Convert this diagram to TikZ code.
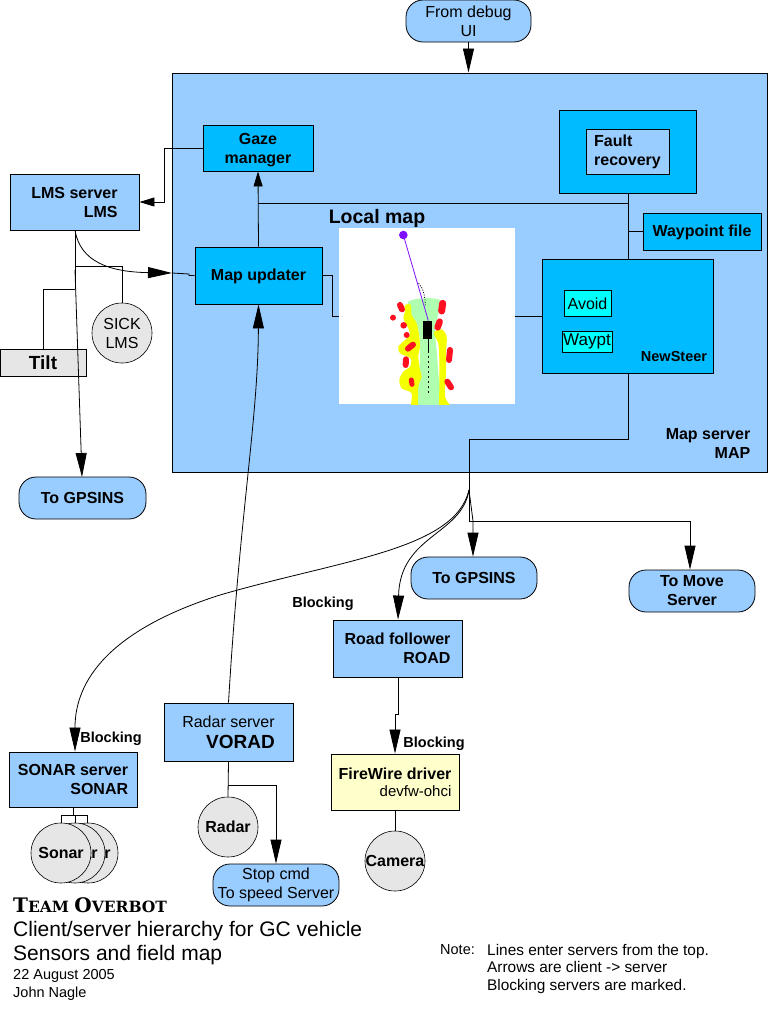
\documentclass[tikz,border=0pt]{standalone}
\usepackage{fontspec}
\setmainfont{Liberation Sans}
\newfontfamily\teamfont{DejaVu Serif}
\usetikzlibrary{arrows.meta,calc}
\tikzset{
  reg/.style={font=\fontsize{16}{19}\selectfont},
  bld/.style={font=\fontsize{16}{19}\selectfont\bfseries},
  box/.style={draw=black,line width=0.9pt,fill=#1,inner sep=0pt,align=center},
  box/.default={lb},
  pill/.style={draw=black,line width=0.8pt,fill=lb,rounded corners=17pt,inner sep=0pt,align=center},
  sens/.style={circle,draw=black,line width=0.6pt,fill=gy,minimum size=60pt,inner sep=0pt,align=center},
  wire/.style={draw=black,line width=0.8pt},
  big/.style={-{Triangle[length=24pt,width=11pt]}},
  small/.style={-{Triangle[length=15pt,width=9pt]}},
  lbl/.style={inner sep=0pt,align=left},
  blk/.style={inner sep=0pt,font=\fontsize{14.5}{17}\selectfont\bfseries},
}
\definecolor{lb}{HTML}{99CCFF}
\definecolor{db}{HTML}{00BBFF}
\definecolor{cy}{HTML}{00FFFF}
\definecolor{gy}{HTML}{E6E6E6}
\definecolor{yl}{HTML}{FFFFCC}
\definecolor{gr}{HTML}{B0FFB0}
\definecolor{ye}{HTML}{F4FF00}
\definecolor{rd}{HTML}{FF1020}
\definecolor{vi}{HTML}{7F10FF}
\begin{document}
\begin{tikzpicture}[x=1pt,y=-1pt]
\useasboundingbox (0,0) rectangle (769,1009);
\fill[white] (0,0) rectangle (769,1009);
% main box
\node[box=lb,minimum width=595pt,minimum height=399pt] (map) at (469.5,272.5) {};
\node[pill,minimum width=125pt,minimum height=42pt,reg] (debug) at (468.5,21) {From debug\\UI};
\node[box=db,minimum width=110pt,minimum height=46pt,bld] (gaze) at (258,148) {\rule{0pt}{16pt}Gaze\\manager};
\node[box=db,minimum width=137pt,minimum height=83pt] (faultbox) at (627.5,151.5) {};
\node[box=lb,minimum width=83pt,minimum height=45pt,bld,align=left] (fault) at (627.5,151.5) {Fault\\recovery};
\node[box=db,minimum width=118pt,minimum height=37pt,bld] (wayp) at (702,231.5) {\rule{0pt}{14pt}Waypoint file};
\node[box=db,minimum width=171pt,minimum height=114pt] (steer) at (627.5,316) {};
\node[box=cy,minimum width=47pt,minimum height=26pt,reg] (avoid) at (587.5,303.5) {Avoid};
\node[box=cy,minimum width=50pt,minimum height=21pt,font=\fontsize{17}{19}\selectfont] (waypt) at (587,341.5) {Waypt};
\node[lbl,font=\fontsize{14.5}{16}\selectfont\bfseries] (newsteer) at (674,357) {NewSteer};
\node[box=db,minimum width=127pt,minimum height=57pt,bld] (upd) at (258.5,275.5) {\rule{0pt}{14pt}Map updater};
\node[lbl,font=\fontsize{19.5}{22}\selectfont\bfseries] (localmap) at (377,218.5) {Local map};
\node[inner sep=0pt,minimum width=176pt,minimum height=176pt,fill=white] (img) at (427,316) {};
% map picture
\begin{scope}
\clip (img.south west) rectangle (img.north east);
\begin{scope}[shift={(320,200)},x=0.3333pt,y=-0.3333pt]
\fill[gr] plot[smooth cycle,tension=0.5] coordinates {(265,305) (310,295) (360,300) (355,340) (345,390) (350,450) (355,520) (362,620) (292,620) (295,540) (300,480) (300,420) (290,370) (270,340)};
\fill[ye] plot[smooth cycle,tension=0.5] coordinates {(255,315) (272,315) (275,345) (290,370) (298,410) (300,440) (295,470) (300,510) (305,530) (295,560) (292,625) (273,625) (275,580) (245,565) (238,540) (250,515) (270,500) (272,475) (240,460) (235,440) (255,420) (270,405) (265,385) (250,355) (255,335)};
\fill[ye] plot[smooth cycle,tension=0.5] coordinates {(343,395) (365,388) (380,410) (378,460) (378,520) (375,590) (395,625) (360,625) (358,560) (358,480) (355,430) (345,410)};
\draw[rd,line cap=round,line width=6pt] (240,315)--(246,328);
\draw[rd,line cap=round,line width=7pt] (368,310)--(365,333);
\draw[rd,line cap=round,line width=6.5pt] (359,365)--(353,382);
\draw[rd,line cap=round,line width=6pt] (390,450)--(387,480);
\draw[rd,line cap=round,line width=6pt] (382,545)--(393,562);
\draw[rd,line cap=round,line width=6pt] (258,478)--(257,495);
\draw[rd,line cap=round,line width=5pt] (274,540)--(276,553);
\draw[rd,line cap=round,line width=6pt] (264,446)--(279,434);
\fill[rd] (219,353) circle (3pt) (251,376) circle (3.3pt) (260,405) circle (3pt);
\draw[vi,line width=0.8pt] (250,105)--(325,362);
\fill[vi] (250,105) circle (4.3pt);
\fill[black] (309,363) rectangle (336,417);
\draw[black,line width=0.9pt] (325,417)--(325,452);
\draw[black,line width=0.8pt,dash pattern=on 2pt off 3pt] (325,452)--(325,578);
\draw[black,line width=0.8pt,dash pattern=on 1pt off 1.5pt] (296,250)..controls (310,265) and (316,290)..(316,320);
\end{scope}
\end{scope}
\node[lbl,align=right,bld] (maplbl) at (708,443) {Map server\\MAP};
% connectors inside map
\coordinate (hl) at (258,203);
\coordinate (hr) at (628,203);
\draw[wire,small] (upd.north) -- (gaze.south);
\draw[wire] (hl) -- (hr);
\draw[wire] (faultbox.south -| hr) -- (steer.north -| hr);
\draw[wire] (wayp.west) -- (wayp.west -| hr);
\draw[wire] (upd.east) -- ++(10,0) |- (img.west);
\draw[wire] (img.east) -- (steer.west);
% outside boxes
\node[box=lb,minimum width=129pt,minimum height=56pt,bld,align=right] (lms) at (74.5,202) {LMS server\\LMS};
\node[box=gy,minimum width=86pt,minimum height=27pt,font=\fontsize{19}{21}\selectfont\bfseries] (tilt) at (43,362.5) {Tilt};
\node[sens,reg] (sick) at (122,333) {SICK\\LMS};
\node[pill,minimum width=127pt,minimum height=42pt,bld] (gps1) at (82.5,498) {To GPSINS};
\node[pill,minimum width=126pt,minimum height=42pt,bld] (gps2) at (474,578) {To GPSINS};
\node[pill,minimum width=126pt,minimum height=42pt,bld] (move) at (692,591) {To Move\\Server};
\node[box=lb,minimum width=129pt,minimum height=57pt,bld,align=right] (road) at (397.5,648.5) {Road follower\\ROAD};
\node[box=yl,minimum width=128pt,minimum height=56pt,align=right] (fw) at (395,782) {\fontsize{16}{19}\selectfont\bfseries FireWire driver\\[5pt]\fontsize{15}{19}\selectfont devfw-ohci};
\node[sens,bld] (cam) at (395,861) {Camera};
\node[box=lb,minimum width=129pt,minimum height=58pt,align=right] (radsrv) at (228.5,732) {\fontsize{16}{19}\selectfont Radar server\\[7pt]\fontsize{19}{21}\selectfont\bfseries VORAD};
\node[sens,bld] (radar) at (228,827) {Radar};
\node[pill,minimum width=126pt,minimum height=42pt,reg] (stop) at (276,885) {Stop cmd\\To speed Server};
\node[box=lb,minimum width=128pt,minimum height=55pt,bld,align=right] (sonsrv) at (73,779.5) {SONAR server\\SONAR};
\node[sens,bld] (son3) at (88,853) {Sonar};
\node[sens,bld] (son2) at (75,853) {Sonar};
\node[sens,bld] (son1) at (61,853) {Sonar};
% junctions
\coordinate (lj) at (75,230);
\coordinate (lt) at (172,273);
\coordinate (dj) at (469,490);
\coordinate (sonj) at (73,815);
\coordinate (sonmid) at (220,595);
% connectors
\draw[wire,big] (debug.south) -- (map.north -| debug.south);
\draw[wire,small] (gaze.west) -- ++(-38,0) |- (lms.east);
\draw[wire] (lj) -- (75,289);
\draw[wire] (75,266) -| (sick.north);
\draw[wire] (75,289) -| (tilt.north);
\draw[wire,big] (75,270) -- (82,477);
\draw[wire,big] (lj) .. controls (80,262) and (110,272) .. (lt);
\draw[wire] (lt) -- (189,274) -- (189,275.5) -- (upd.west);
\draw[wire,big] (radsrv.north) .. controls (240,510) and (258,420) .. (upd.south);
\draw[wire] (steer.south -| hr) -- (628,439) -| (dj);
\draw[wire,big] (dj) -- (473,521) -- (gps2.north -| 473,0);
\draw[wire,big] (dj) -- (469,521.5) -| (move.north -| 690,0);
\draw[wire,big] (dj) .. controls (462,535) and (400,535) .. (road.north -| 398,0);
\draw[wire,big] (dj) .. controls (455,550) and (340,560) .. (sonmid) .. controls (110,630) and (75,680) .. (sonsrv.north -| 75,0);
\draw[wire,big] (road.south -| 398,0) -- (398,714) -- (395,714) -- (fw.north);
\draw[wire] (fw.south) -- (cam.north);
\draw[wire] (radsrv.south) -- (radar.north);
\draw[wire,big] (228,785) -| (stop.north);
\draw[wire] (sonsrv.south) -- (sonj);
\draw[wire] (61,823) -- (61,815) -- (87,815) -- (87,823);
\draw[wire] (75,815) -- (75,823);
% labels
\node[blk] (b1) at (111,739) {Blocking};
\node[blk] (b2) at (323,604) {Blocking};
\node[blk] (b3) at (434,744) {Blocking};
\node[anchor=west,inner sep=0pt,font=\teamfont\bfseries] (team) at (13,905) {\fontsize{20}{20}\selectfont T\fontsize{15.5}{15}\selectfont EAM \fontsize{20}{20}\selectfont O\fontsize{15.5}{15}\selectfont VERBOT};
\node[anchor=west,inner sep=0pt,font=\fontsize{21}{24}\selectfont] (t1) at (13,931) {Client/server hierarchy for GC vehicle};
\node[anchor=west,inner sep=0pt,font=\fontsize{21}{24}\selectfont] (t2) at (13,955) {Sensors and field map};
\node[anchor=west,inner sep=0pt,font=\fontsize{14.5}{17}\selectfont] (t3) at (13,976) {22 August 2005};
\node[anchor=west,inner sep=0pt,font=\fontsize{14.5}{17}\selectfont] (t4) at (13,994) {John Nagle};
\node[anchor=west,inner sep=0pt,font=\fontsize{14.5}{17}\selectfont] (n0) at (440,950) {Note:};
\node[anchor=west,inner sep=0pt,font=\fontsize{15.4}{17.5}\selectfont,align=left] (n1) at (487,969) {Lines enter servers from the top.\\Arrows are client -> server\\Blocking servers are marked.};
\end{tikzpicture}
\end{document}
